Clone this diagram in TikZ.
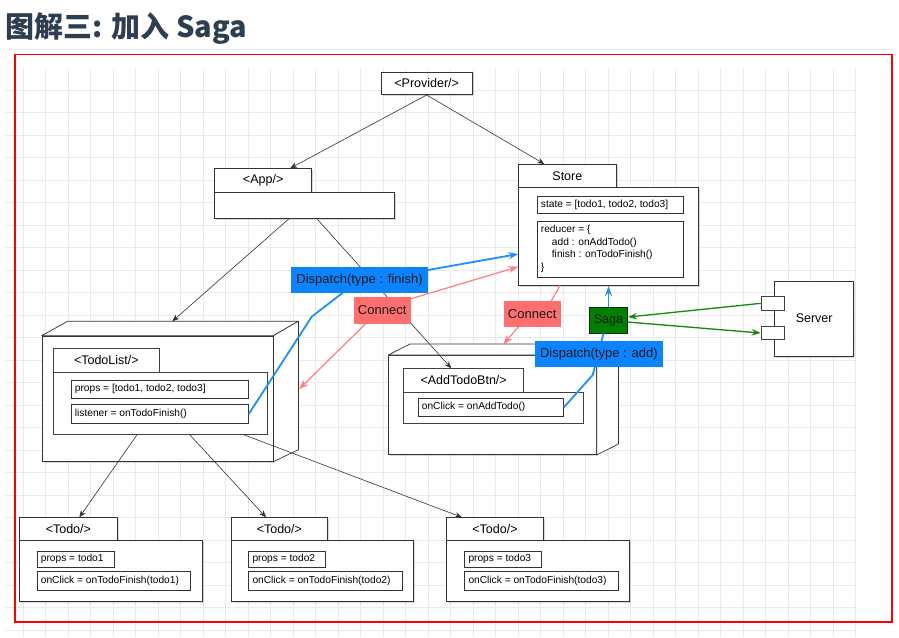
\documentclass[tikz,border=0pt]{standalone}
\usepackage{fontspec}
\setmainfont{Liberation Sans}
\newfontfamily\cjk{Noto Sans CJK SC}
\usetikzlibrary{shadows,arrows.meta}
\definecolor{titlec}{HTML}{2C3E50}
\definecolor{gridc}{HTML}{EAEAEA}
\definecolor{bluefill}{HTML}{0A84FF}
\definecolor{bluel}{HTML}{1E8FFF}
\definecolor{pinkfill}{HTML}{FF6F6F}
\definecolor{pinkl}{HTML}{FF7F7F}
\definecolor{sagafill}{HTML}{008000}
\definecolor{greenl}{HTML}{0F8A0F}
\tikzset{
  frame/.style={draw=black!80, fill=white, line width=0.7pt, inner sep=0pt, anchor=north west,
    font=\fontsize{12.5}{14}\selectfont,
    drop shadow={shadow xshift=1.8pt, shadow yshift=-1.8pt, opacity=0.3}},
  flat/.style={draw=black!75, fill=white, line width=0.7pt, inner sep=0pt, anchor=north west,
    font=\fontsize{12.5}{14}\selectfont},
  field/.style={draw=black!80, fill=white, line width=0.6pt, inner sep=0pt, anchor=north west},
  ftext/.style={anchor=west, inner sep=0pt, font=\fontsize{10.2}{12}\selectfont},
  facepath/.style={draw=black!80, fill=white, line width=0.7pt, line join=round},
  tag/.style={anchor=north west, inner sep=0pt, font=\fontsize{13}{15}\selectfont, text=black!90},
  conn/.style={draw=black!80, line width=0.6pt, -{Stealth[length=7pt,width=5.5pt]}},
  bline/.style={draw=bluel, line width=1.8pt},
  pline/.style={draw=pinkl, line width=1.2pt},
  gline/.style={draw=greenl, line width=1.3pt, -{Stealth[length=9pt,width=6.5pt]}},
  bigtip/.style={-{Stealth[length=10pt,width=7pt]}}
}
\newcommand\mkfield[6]{%
  \node[field, minimum width=#4pt, minimum height=#5pt] (#1) at (#2,#3) {};
  \node[ftext] at ([xshift=4pt]#1.west) {#6};}
\begin{document}
\begin{tikzpicture}[x=1pt,y=-1pt]
\useasboundingbox (0,0) rectangle (899,637);
% grid
\foreach \k in {0,...,24} \draw[gridc, line width=0.8pt] (5,90+22.5*\k) -- (856,90+22.5*\k);
\foreach \k in {0,...,37} \draw[gridc, line width=0.8pt] (23.3+22.5*\k,69) -- (23.3+22.5*\k,637);
% title
\node[anchor=base west, inner sep=0pt, text=titlec, font=\cjk\bfseries\fontsize{29}{33}\selectfont] (title) at (5.5,37.5) {图解三: 加入 Saga};
\draw[black!8, line width=1pt] (5,49.5) -- (894,49.5);
\draw[red, line width=1.8pt] (15,54.5) rectangle (892,622);

% Provider
\node[frame, minimum width=90.7pt, minimum height=22.6pt] (provider) at (381,71.7) {<Provider/>};
% App
\node[frame, minimum width=97pt, minimum height=23.4pt] (apptab) at (214.3,168.3) {<App/>};
\node[frame, minimum width=180pt, minimum height=26.6pt] (appbody) at (214.3,191.7) {};
% Store
\node[frame, minimum width=97.4pt, minimum height=22.7pt] (storetab) at (518.3,164) {Store};
\node[frame, minimum width=180pt, minimum height=98.6pt] (storebody) at (518.3,186.7) {};
\mkfield{state}{536.7}{195.7}{146}{17.6}{state = [todo1, todo2, todo3]}
\node[field, minimum width=146pt, minimum height=56pt] (reducer) at (536.7,220.7) {};
\node[anchor=north west, inner sep=0pt, align=left, font=\fontsize{10.2}{12.7}\selectfont] (reducertext) at (540.7,225) {reducer = \{\\\hspace*{11pt}add : onAddTodo()\\\hspace*{11pt}finish : onTodoFinish()\\\}};
% Server
\node[frame, minimum width=79pt, minimum height=75pt] (server) at (774.3,280.7) {Server};
\node[flat, minimum width=23.6pt, minimum height=14pt] (port1) at (760.7,296) {};
\node[flat, minimum width=23.6pt, minimum height=13.3pt] (port2) at (760.7,326) {};

% TodoList 3D box
\node[frame, minimum width=231pt, minimum height=125.3pt] (tlfront) at (41.7,335.7) {};
\draw[facepath] (tlfront.north west) -- ++(26,-14.5) -- ([shift={(25,-14.5)}]tlfront.north east) -- (tlfront.north east) -- cycle;
\draw[facepath] (tlfront.north east) -- ++(25,-14.5) -- ([shift={(25,-12)}]tlfront.south east) -- (tlfront.south east) -- cycle;
\node[flat, minimum width=106.6pt, minimum height=23.4pt] (tltab) at (52.7,348.3) {<TodoList/>};
\node[flat, minimum width=214pt, minimum height=62.3pt] (tlbody) at (52.7,371.7) {};
\mkfield{tlprops}{70.7}{380}{177.6}{17.7}{props = [todo1, todo2, todo3]}
\mkfield{listener}{70.7}{404.3}{177.6}{18.4}{listener = onTodoFinish()}

% AddTodoBtn 3D box
\node[frame, minimum width=207.7pt, minimum height=99.3pt] (abfront) at (388.3,355) {};
\draw[facepath] (abfront.north west) -- ++(21.7,-11) -- ([shift={(21.7,-11)}]abfront.north east) -- (abfront.north east) -- cycle;
\draw[facepath] (abfront.north east) -- ++(21.7,-11) -- ([shift={(21.7,-11)}]abfront.south east) -- (abfront.south east) -- cycle;
\node[flat, minimum width=120pt, minimum height=23.4pt] (abtab) at (403.3,368.3) {<AddTodoBtn/>};
\node[flat, minimum width=180pt, minimum height=31pt] (abbody) at (403.3,391.7) {};
\mkfield{abclick}{417.7}{398.3}{145.6}{17.4}{onClick = onAddTodo()}

% Todo boxes
\node[frame, minimum width=97.4pt, minimum height=22.7pt] (t1tab) at (19.3,517.3) {<Todo/>};
\node[frame, minimum width=182.4pt, minimum height=60.7pt] (t1body) at (19.3,540) {};
\mkfield{t1props}{36.7}{551}{77.6}{15.7}{props = todo1}
\mkfield{t1click}{36.7}{571}{153.3}{19}{onClick = onTodoFinish(todo1)}

\node[frame, minimum width=96.6pt, minimum height=22.7pt] (t2tab) at (230.7,517.3) {<Todo/>};
\node[frame, minimum width=182.6pt, minimum height=60.7pt] (t2body) at (230.7,540) {};
\mkfield{t2props}{248.3}{551}{76.7}{15.7}{props = todo2}
\mkfield{t2click}{248.3}{571}{153.4}{19}{onClick = onTodoFinish(todo2)}

\node[frame, minimum width=97.3pt, minimum height=22.7pt] (t3tab) at (446,517.3) {<Todo/>};
\node[frame, minimum width=183pt, minimum height=60.7pt] (t3body) at (446,540) {};
\mkfield{t3props}{464.3}{551}{76.4}{15.7}{props = todo3}
\mkfield{t3click}{464.3}{571}{153.4}{19}{onClick = onTodoFinish(todo3)}

% named free ends
\coordinate (tltop) at (172.3,321.3);
\coordinate (storeinB) at (518.3,254);
\coordinate (storeinP) at (518.3,266.7);
\coordinate (storeoutP) at (560,285.3);
\coordinate (tlinP) at (299,389.3);
\coordinate (abinP) at (503.3,344.5);

% black connectors
\draw[conn] (provider.south) -- ([xshift=27pt]apptab.north);
\draw[conn] (provider.south) -- ([xshift=-23pt]storetab.north);
\draw[conn] ([xshift=-16pt]appbody.south) -- (tltop);
\draw[conn] ([xshift=12.4pt]appbody.south) -- ([xshift=-12.3pt]abtab.north);
\draw[conn] ([xshift=-23pt]tlbody.south) -- ([xshift=11pt]t1tab.north);
\draw[conn] ([xshift=29.6pt]tlbody.south) -- ([xshift=-13.3pt]t2tab.north);
\draw[conn] ([xshift=83.6pt]tlbody.south) -- ([xshift=-33pt]t3tab.north);

% saga node (drawn before its lines; they end on its border)
\node[tag, fill=sagafill, draw=black!60!sagafill, line width=0.7pt, minimum width=38.3pt, minimum height=26pt, font=\fontsize{12.5}{14}\selectfont] (saga) at (589,306.7) {Saga};

% blue dispatch lines
\draw[bline, bigtip] (listener.east) -- (311.7,316.7) -- (343.3,292.3) -- (380,278.5) -- (storeinB);
\draw[bline] (abclick.east) -- (592.7,375) -- ([xshift=-5pt]saga.south);
% pink connect lines
\draw[pline, {Stealth[length=10pt,width=7pt]}-{Stealth[length=10pt,width=7pt]}] (tlinP) -- (365,324.3) -- (390,305) -- (storeinP);
\draw[pline, bigtip] (storeoutP) -- (548,307) -- (525,319) -- (abinP);

% labels
\node[tag, fill=bluefill, minimum width=136.7pt, minimum height=25.6pt] (dfinish) at (291,266.7) {Dispatch(type : finish)};
\node[tag, fill=pinkfill, minimum width=57.4pt, minimum height=26.6pt] (conn1) at (353.3,296.7) {Connect};
\node[tag, fill=pinkfill, minimum width=57.4pt, minimum height=25.7pt] (conn2) at (503.3,301) {Connect};
\node[tag, fill=bluefill, minimum width=127.3pt, minimum height=25.7pt] (dadd) at (535,341) {Dispatch(type : add)};

% saga to store, saga <-> server
\draw[bline, bigtip] (saga.north) -- (saga.north |- storebody.south);
\draw[gline] (port1.west) -- ([yshift=3pt]saga.east);
\draw[gline] ([yshift=-2pt]saga.east) -- (port2.west);
\end{tikzpicture}
\end{document}
